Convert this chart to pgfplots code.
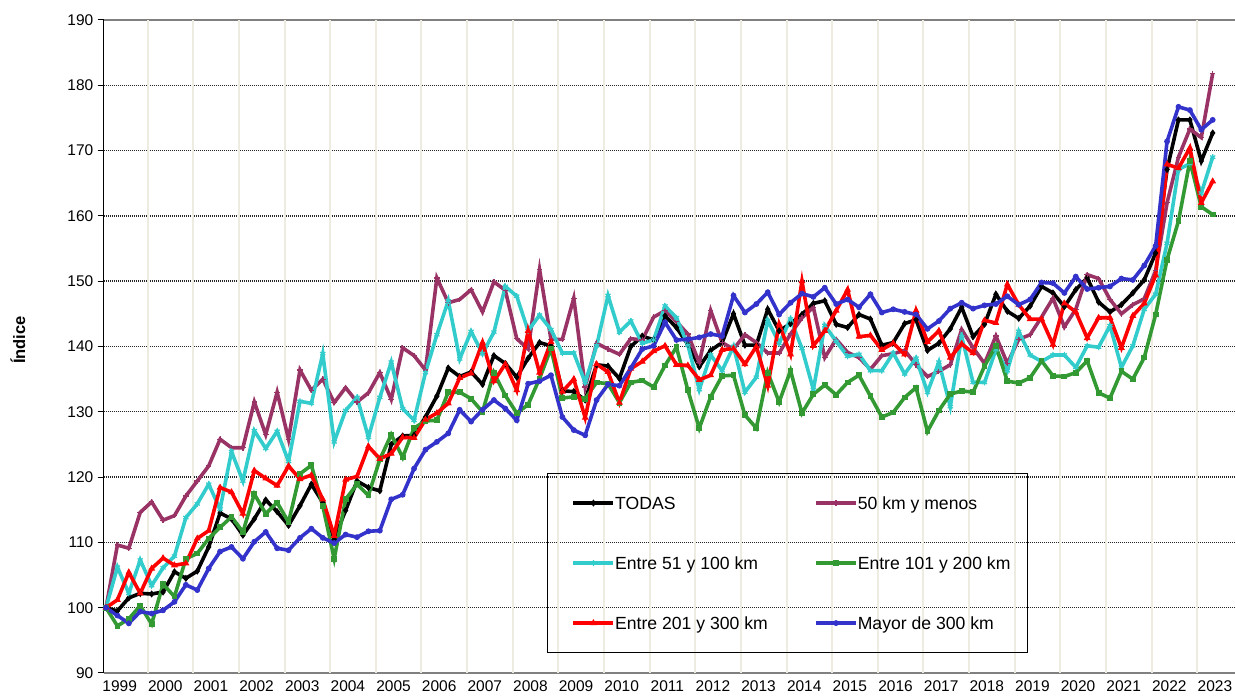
\documentclass[border=0pt]{standalone}
\usepackage{fontspec}
\setmainfont{Liberation Sans}
\usepackage{pgfplots}
\pgfplotsset{compat=1.18}
\usepackage{pgfplotstable}
\definecolor{cPurple}{RGB}{153,51,102}
\definecolor{cCyan}{RGB}{51,204,204}
\definecolor{cGreen}{RGB}{51,153,51}
\definecolor{cRed}{RGB}{255,0,0}
\definecolor{cBlue}{RGB}{51,51,204}
\definecolor{vgrid}{RGB}{238,236,224}
\pgfplotstableread{
i todas km50 km100 km200 km300 mayor
0 100 100 100 100 100 100
1 99.5 109.6 106.2 97.2 101.2 98.8
2 101.5 109.1 102.2 98.3 105.4 97.6
3 102.2 114.6 107.3 100.3 102.2 99.4
4 102.1 116.2 103.4 97.5 106.0 99.1
5 102.4 113.4 106.1 103.6 107.6 99.6
6 105.5 114.1 107.9 101.7 106.5 100.9
7 104.5 117.1 113.8 107.5 106.8 103.5
8 105.6 119.4 115.9 108.3 110.6 102.7
9 109.3 121.7 118.9 110.6 111.8 106.0
10 114.5 125.8 115.1 112.3 118.4 108.6
11 113.6 124.5 123.9 113.9 117.7 109.3
12 111.1 124.5 119.4 111.6 114.4 107.5
13 113.6 131.5 127.1 117.4 121.0 110.1
14 116.5 126.5 124.4 114.4 119.8 111.6
15 114.7 133.0 127.0 116.1 118.7 109.1
16 112.6 125.8 122.4 113.1 121.7 108.8
17 115.6 136.4 131.6 120.5 119.7 110.7
18 118.9 133.3 131.3 121.8 120.3 112.1
19 116.1 135.0 138.9 115.6 116.6 110.7
20 110.5 131.4 125.4 107.5 111.0 109.9
21 114.9 133.7 130.2 116.6 119.6 111.2
22 119.4 131.5 132.2 118.9 120.1 110.8
23 118.4 132.9 126.1 117.2 124.7 111.7
24 117.9 136.0 132.2 122.7 122.8 111.8
25 125.0 131.9 137.6 126.5 123.6 116.6
26 126.3 139.8 130.5 123.0 126.1 117.3
27 126.4 138.6 128.7 127.5 126.0 121.3
28 129.2 136.4 136.0 128.6 128.8 124.2
29 132.4 150.5 141.8 128.7 129.8 125.4
30 136.7 146.7 147.0 133.0 131.3 126.7
31 135.4 147.2 138.1 133.0 135.2 130.3
32 136.1 148.7 142.3 132.0 135.9 128.5
33 134.2 145.3 138.9 130.0 140.6 130.3
34 138.6 149.9 142.2 136.0 134.7 131.8
35 137.4 148.6 149.2 132.5 137.3 130.5
36 135.3 141.2 147.7 129.8 133.3 128.7
37 138.2 139.6 142.4 131.1 142.4 134.3
38 140.6 151.8 144.8 135.1 136.0 134.7
39 140.1 141.1 142.6 139.7 140.7 135.6
40 133.2 141.1 139.0 132.1 133.1 129.2
41 133.1 147.4 139.0 132.3 135.0 127.2
42 131.8 133.8 134.5 132.0 129.1 126.4
43 137.2 140.5 140.1 134.5 137.3 131.8
44 137.0 139.6 147.8 134.3 136.1 134.2
45 135.1 138.8 142.2 131.4 131.4 134.0
46 140.0 141.2 143.9 134.5 136.6 136.7
47 141.6 141.0 140.5 134.8 137.7 139.6
48 141.0 144.5 141.0 133.8 139.3 140.1
49 144.7 145.5 146.2 137.1 140.1 143.7
50 142.9 143.8 144.4 139.9 137.2 141.0
51 140.3 141.9 140.2 133.3 137.1 141.1
52 136.9 137.5 133.4 127.5 134.9 141.4
53 139.4 145.5 138.7 132.3 135.6 141.9
54 140.6 140.6 136.3 135.5 139.5 141.6
55 145.0 139.6 140.0 135.6 139.7 147.8
56 140.2 141.8 133.0 129.5 137.3 145.2
57 140.2 140.6 135.3 127.5 140.0 146.5
58 145.7 139.0 144.0 136.0 134.0 148.3
59 142.4 139.0 140.5 131.5 143.4 144.9
60 143.5 141.9 144.2 136.3 138.8 146.7
61 144.9 144.4 139.7 129.8 150.0 148.1
62 146.6 146.0 133.4 132.7 140.1 147.6
63 147.0 138.3 143.2 134.1 142.4 149.0
64 143.4 141.1 140.8 132.6 145.5 146.5
65 142.9 139.1 138.5 134.5 148.7 147.2
66 144.9 138.3 138.8 135.6 141.5 146.0
67 144.2 136.5 136.3 132.4 141.7 148.0
68 140.2 138.6 136.3 129.2 139.5 145.2
69 140.6 138.9 139.0 129.9 140.5 145.7
70 143.5 139.4 135.8 132.2 138.8 145.3
71 144.1 137.2 138.2 133.7 145.5 144.9
72 139.4 135.4 133.0 127.0 140.7 142.7
73 140.5 136.2 137.6 130.2 142.4 143.9
74 142.7 137.2 130.8 132.7 138.3 145.8
75 146.0 142.6 141.5 133.2 140.4 146.7
76 141.5 139.8 134.5 133.0 139.0 145.8
77 143.4 137.4 134.5 137.0 144.0 146.3
78 148.0 141.6 139.5 140.1 143.6 146.5
79 145.4 137.4 136.3 134.7 149.5 147.7
80 144.3 141.1 142.3 134.4 146.4 146.4
81 146.2 141.8 138.7 135.2 144.2 147.2
82 149.2 144.5 137.7 137.8 144.2 149.8
83 148.2 147.4 138.7 135.5 140.3 149.7
84 146.1 143.0 138.7 135.4 146.6 148.2
85 148.7 145.7 136.8 136.0 145.3 150.7
86 150.5 151.0 140.1 137.8 141.3 148.8
87 146.8 150.4 139.9 132.9 144.4 149.0
88 145.3 147.2 143.2 132.1 144.4 149.2
89 146.4 145.0 136.8 136.2 139.8 150.4
90 148.2 146.4 140.1 135.0 144.7 150.2
91 150.2 147.3 145.7 138.3 146.6 152.4
92 154.3 151.6 148.0 144.9 150.9 155.4
93 167.1 162.0 155.8 153.3 167.9 171.4
94 174.7 169.0 167.1 159.2 167.3 176.7
95 174.7 173.3 168.0 168.4 170.4 176.2
96 168.4 172.0 163.5 161.4 162.0 173.2
97 172.7 181.8 169.0 160.2 165.3 174.7
}\datatable
\begin{document}
\begin{tikzpicture}
\useasboundingbox (0,0) rectangle (1235pt,696pt);
\begin{axis}[
  at={(103.5pt,23pt)}, anchor=south west,
  scale only axis, width=1131.5pt, height=653pt,
  xmin=-0.22, xmax=98.95, ymin=90, ymax=190,
  axis y line*=left, axis x line*=box,
  x axis line style={color=black!50, line width=2.5pt},
  y axis line style={color=black, line width=1.5pt},
  ytick={90,100,...,190},
  xtick={1.2,5.2,9.2,13.2,17.2,21.2,25.2,29.2,33.2,37.2,41.2,45.2,49.2,53.2,57.2,61.2,65.2,69.2,73.2,77.2,81.2,85.2,89.2,93.2,97.2},
  xticklabels={1999,2000,2001,2002,2003,2004,2005,2006,2007,2008,2009,2010,2011,2012,2013,2014,2015,2016,2017,2018,2019,2020,2021,2022,2023},
  xtick style={draw=none},
  ytick style={black, line width=1pt},
  tick align=outside, major tick length=6pt,
  extra x ticks={3.65,7.65,11.65,15.65,19.65,23.65,27.65,31.65,35.65,39.65,43.65,47.65,51.65,55.65,59.65,63.65,67.65,71.65,75.65,79.65,83.65,87.65,91.65,95.65},
  extra x tick labels={},
  extra x tick style={grid=major, major grid style={color=vgrid, line width=2pt}, major tick length=0pt},
  ymajorgrids,
  y grid style={color=black!85, dash pattern=on 1pt off 1pt, line width=1.4pt},
  /pgf/number format/assume math mode=true,
  tick label style={font=\fontsize{15.5}{18}\selectfont},
  xticklabel style={anchor=north, inner sep=0pt, yshift=-1pt},
  yticklabel style={anchor=east, inner sep=0pt, xshift=-4pt},
  ylabel={Índice},
  ylabel style={font=\fontsize{16.5}{19}\selectfont\bfseries, at={(axis description cs:-0.0756,0.51)}, rotate=0, anchor=center},
  every axis plot/.append style={line width=3.6pt},
  legend columns=2,
  legend image code/.code={\draw[mark repeat=2,mark phase=2,#1] plot coordinates {(0pt,0pt) (20pt,0pt) (40pt,0pt)};},
  legend style={at={(axis description cs:0.392,0.3063)}, anchor=north west, draw=black, line width=1.2pt, fill=none,
    inner xsep=24pt, inner ysep=23.2pt, column sep=0pt, row sep=47.4pt,
    font=\fontsize{17.6}{20}\selectfont,
    nodes={inner sep=0pt, text height=12.6pt, text depth=0pt}},
]
\addplot[color=black, mark=diamond*, mark size=2.8pt, mark options={solid, fill=black, line width=1pt}] table[x=i, y=todas] {\datatable};
\addlegendentry{\makebox[199pt][l]{TODAS}}
\addplot[color=cPurple, mark=+, mark size=2.8pt, mark options={solid, line width=1.2pt}] table[x=i, y=km50] {\datatable};
\addlegendentry{\makebox[146pt][l]{50 km y menos}}
\addplot[color=cCyan, mark=asterisk, mark size=3pt, mark options={solid, line width=1.2pt}] table[x=i, y=km100] {\datatable};
\addlegendentry{\makebox[199pt][l]{Entre 51 y 100 km}}
\addplot[color=cGreen, mark=square*, mark size=2.4pt, mark options={solid, fill=cGreen, line width=1pt}] table[x=i, y=km200] {\datatable};
\addlegendentry{\makebox[146pt][l]{Entre 101 y 200 km}}
\addplot[color=cRed, mark=triangle*, mark size=3pt, mark options={solid, fill=cRed, line width=1pt}] table[x=i, y=km300] {\datatable};
\addlegendentry{\makebox[199pt][l]{Entre 201 y 300 km}}
\addplot[color=cBlue, mark=*, mark size=2.4pt, mark options={solid, fill=cBlue, line width=1pt}] table[x=i, y=mayor] {\datatable};
\addlegendentry{\makebox[146pt][l]{Mayor de 300 km}}
\end{axis}
\end{tikzpicture}
\end{document}
